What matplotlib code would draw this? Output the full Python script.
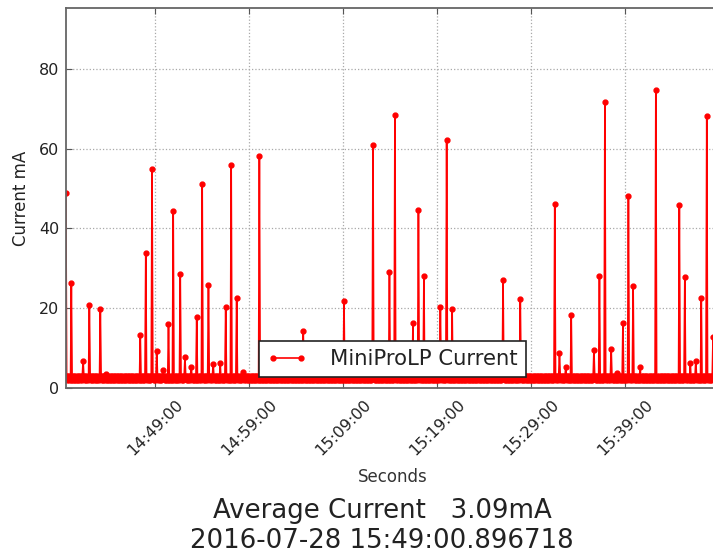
import matplotlib
matplotlib.use("Agg")
import matplotlib.pyplot as plt
import matplotlib.dates as mdates
import pandas as pd
import numpy as np

# ---------------- data ----------------
day = "2016-07-28"
series_start = "14:39:29"
series_end = "15:49:00"
axis_start = "14:39:28"
axis_end = "15:48:59"
sample_period = "5s"
# lower / upper edge of the dense idle band near the bottom
idle_band_mA = [2.1, 2.9]

spike_times = [
    "14:39:29", "14:40:05", "14:41:20", "14:41:59", "14:43:07", "14:43:45",
    "14:47:22", "14:48:01", "14:48:37", "14:49:09", "14:49:47", "14:50:23",
    "14:50:55", "14:51:38", "14:52:11", "14:52:48", "14:53:24", "14:54:00",
    "14:54:38", "14:55:10", "14:55:53", "14:56:29", "14:57:03", "14:57:41",
    "14:58:18", "15:00:02", "15:04:45", "15:09:04", "15:12:10", "15:13:54",
    "15:14:30", "15:16:23", "15:16:59", "15:17:35", "15:19:17", "15:20:00",
    "15:20:34", "15:26:01", "15:27:48", "15:31:31", "15:31:59", "15:32:41",
    "15:33:12", "15:35:40", "15:36:14", "15:36:50", "15:37:29", "15:38:04",
    "15:38:43", "15:39:17", "15:39:51", "15:40:34", "15:42:16", "15:44:45",
    "15:45:21", "15:45:53", "15:46:31", "15:47:06", "15:47:40", "15:48:17",
]
spike_values = [
    49.0, 26.3, 6.8, 20.8, 19.9, 3.5,
    13.3, 33.9, 54.9, 9.3, 4.5, 16.0,
    44.3, 28.7, 7.7, 5.3, 17.7, 51.2,
    25.8, 6.0, 6.2, 20.2, 56.0, 22.6,
    3.9, 58.1, 14.3, 21.8, 60.9, 29.0,
    68.5, 16.2, 44.6, 28.2, 20.3, 62.1,
    19.9, 27.0, 22.4, 46.1, 8.8, 5.2,
    18.4, 9.5, 28.1, 71.6, 9.9, 3.7,
    16.3, 48.1, 25.5, 5.2, 74.8, 45.8,
    27.8, 6.3, 6.8, 22.5, 68.3, 12.7,
]
y_ticks = [0, 20, 40, 60, 80]
y_max = 95.2
series_label = "MiniProLP Current"
x_label = "Seconds"
y_label = "Current mA"
title_lines = ["Average Current   3.09mA", "2016-07-28 15:49:00.896718"]

# ---------------- build the series ----------------
times = pd.date_range(f"{day} {series_start}", f"{day} {series_end}", freq=sample_period)
values = np.array([idle_band_mA[i % 2] for i in range(len(times))], dtype=float)
for t, v in zip(spike_times, spike_values):
    ts = pd.Timestamp(f"{day} {t}")
    idx = int(np.argmin(np.abs((times - ts).total_seconds())))
    values[idx] = v

# ---------------- figure ----------------
plt.rcParams["font.family"] = ["DejaVu Sans"]
W, H = 713, 554
fig = plt.figure(figsize=(W / 100, H / 100), dpi=100)
ax_left, ax_right, ax_top, ax_bottom = 65.7, 719.3, 8.3, 388.0
ax = fig.add_axes([ax_left / W, 1 - ax_bottom / H,
                   (ax_right - ax_left) / W, (ax_bottom - ax_top) / H])

ax.plot(times.to_pydatetime(), values, color="#ff0000", linestyle="-",
        linewidth=1.2, marker=".", markersize=7, label=series_label,
        clip_on=True)

ax.set_xlim(pd.Timestamp(f"{day} {axis_start}"), pd.Timestamp(f"{day} {axis_end}"))
ax.set_ylim(0, y_max)
ax.set_yticks(y_ticks)
ax.xaxis.set_major_locator(mdates.MinuteLocator(byminute=[9, 19, 29, 39, 49, 59]))
ax.xaxis.set_major_formatter(mdates.DateFormatter("%H:%M:%S"))

text_color = "#222222"
ax.tick_params(axis="both", direction="in", length=4, width=0.8,
               colors="#555555", labelcolor=text_color, labelsize=11.5,
               top=True, right=True)
ax.tick_params(axis="y", pad=4.5)
ax.tick_params(axis="x", pad=6.5)
for lab in ax.get_xticklabels():
    lab.set_rotation(45)
    lab.set_ha("center")

ax.grid(True, color="#a8a8a8", linestyle=":", linewidth=0.9)
for sp in ax.spines.values():
    sp.set_color("#666666")
    sp.set_linewidth(1.3)

ax.set_xlabel(x_label, fontsize=12, color="#333333")
ax.xaxis.set_label_coords(0.5, (ax_bottom - 468) / (ax_bottom - ax_top))
ax.set_ylabel(y_label, fontsize=12, color=text_color)
ax.yaxis.set_label_coords((30 - ax_left) / (ax_right - ax_left), 0.5)

leg = ax.legend(loc="lower center", fontsize=15.2, numpoints=2,
                fancybox=False, framealpha=1.0, edgecolor="#222222",
                borderaxespad=0.5, handlelength=1.9, handletextpad=1.1,
                borderpad=0.4)
leg.get_frame().set_linewidth(1.2)
for txt in leg.get_texts():
    txt.set_color(text_color)

fig.text(382 / W, 1 - 547.7 / H, "\n".join(title_lines), ha="center",
         va="baseline", fontsize=18.7, color=text_color, linespacing=1.2)

fig.savefig("out.png", dpi=100)
